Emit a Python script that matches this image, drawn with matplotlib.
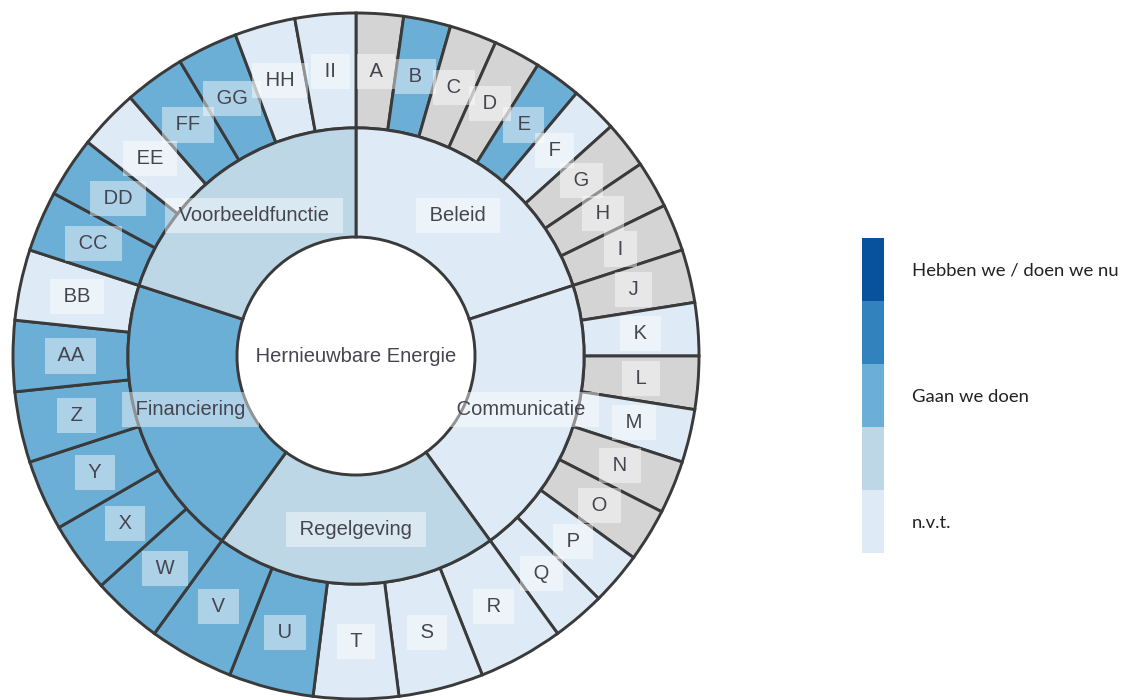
import numpy as np
import matplotlib
matplotlib.use("Agg")
import matplotlib.pyplot as plt

# inner ring
categories = ["Beleid", "Communicatie", "Regelgeving", "Financiering", "Voorbeeldfunctie"]
category_weight = [1, 1, 1, 1, 1]
category_status = ["nvt", "nvt", "deels", "gaan", "deels"]

# outer ring, grouped per category
items = [
    ["A", "B", "C", "D", "E", "F", "G", "H", "I"],
    ["J", "K", "L", "M", "N", "O", "P", "Q"],
    ["R", "S", "T", "U", "V"],
    ["W", "X", "Y", "Z", "AA", "BB"],
    ["CC", "DD", "EE", "FF", "GG", "HH", "II"],
]
item_status = [
    ["leeg", "gaan", "leeg", "leeg", "gaan", "nvt", "leeg", "leeg", "leeg"],
    ["leeg", "nvt", "leeg", "nvt", "leeg", "leeg", "nvt", "nvt"],
    ["nvt", "nvt", "nvt", "gaan", "gaan"],
    ["gaan", "gaan", "gaan", "gaan", "gaan", "nvt"],
    ["gaan", "gaan", "nvt", "gaan", "gaan", "nvt", "nvt"],
]

legend_colors = ["#08519c", "#3182bd", "#6baed6", "#bdd7e7", "#deebf7"]
legend_labels = ["Hebben we / doen we nu", "Gaan we doen", "n.v.t."]

colors = {"nu": "#08519c", "bijna": "#3182bd", "gaan": "#6baed6",
          "deels": "#bdd7e7", "nvt": "#deebf7", "leeg": "#d4d4d4"}

item_labels = [lab for grp in items for lab in grp]
item_sizes = [w / len(grp) for w, grp in zip(category_weight, items) for _ in grp]
item_colors = [colors[s] for grp in item_status for s in grp]

fig = plt.figure(figsize=(11.31, 7.0), dpi=100)
ax = fig.add_axes([13 / 1131, 1 / 700, 686 / 1131, 686 / 700])

edge = dict(edgecolor="#3a3a3a", linewidth=2.1)
r_out, r_mid, r_in = 1.0, 0.665, 0.347

outer, _ = ax.pie(item_sizes, radius=r_out, startangle=90, counterclock=False,
                  colors=item_colors, wedgeprops=dict(width=r_out - r_mid, **edge))
inner, _ = ax.pie(category_weight, radius=r_mid, startangle=90, counterclock=False,
                  colors=[colors[s] for s in category_status],
                  wedgeprops=dict(width=r_mid - r_in, **edge))

box = dict(boxstyle="square,pad=0.4", facecolor="white", edgecolor="none", alpha=0.45)
txt = dict(ha="center", va="center", fontsize=14.5, color="#454550",
           family="Liberation Sans", bbox=box, zorder=5)


def put_labels(wedges, labels, r):
    for w, lab in zip(wedges, labels):
        a = np.deg2rad((w.theta1 + w.theta2) / 2)
        ax.text(r * np.cos(a), r * np.sin(a), " " + lab + " ", **txt)


put_labels(outer, item_labels, (r_out + r_mid) / 2)
put_labels(inner, categories, (r_mid + r_in) / 2)
ax.text(0, 0, " Hernieuwbare Energie ", **txt)

ax.set_xlim(-1, 1)
ax.set_ylim(-1, 1)
ax.set_aspect("equal")
ax.axis("off")

# legend bar
lax = fig.add_axes([862 / 1131, 1 - 553 / 700, 22 / 1131, 315 / 700])
for i, c in enumerate(legend_colors[::-1]):
    lax.bar(0, 1, bottom=i, width=1, color=c)
lax.set_xlim(-0.5, 0.5)
lax.set_ylim(0, 5)
lax.set_xticks([])
lax.yaxis.tick_right()
lax.set_yticks([4.5, 2.5, 0.5])
lax.set_yticklabels(legend_labels, family="Lato", fontsize=13.3, color="#222222")
lax.tick_params(axis="y", length=0, pad=20)
for s in lax.spines.values():
    s.set_visible(False)

fig.savefig("out.png", dpi=100)
